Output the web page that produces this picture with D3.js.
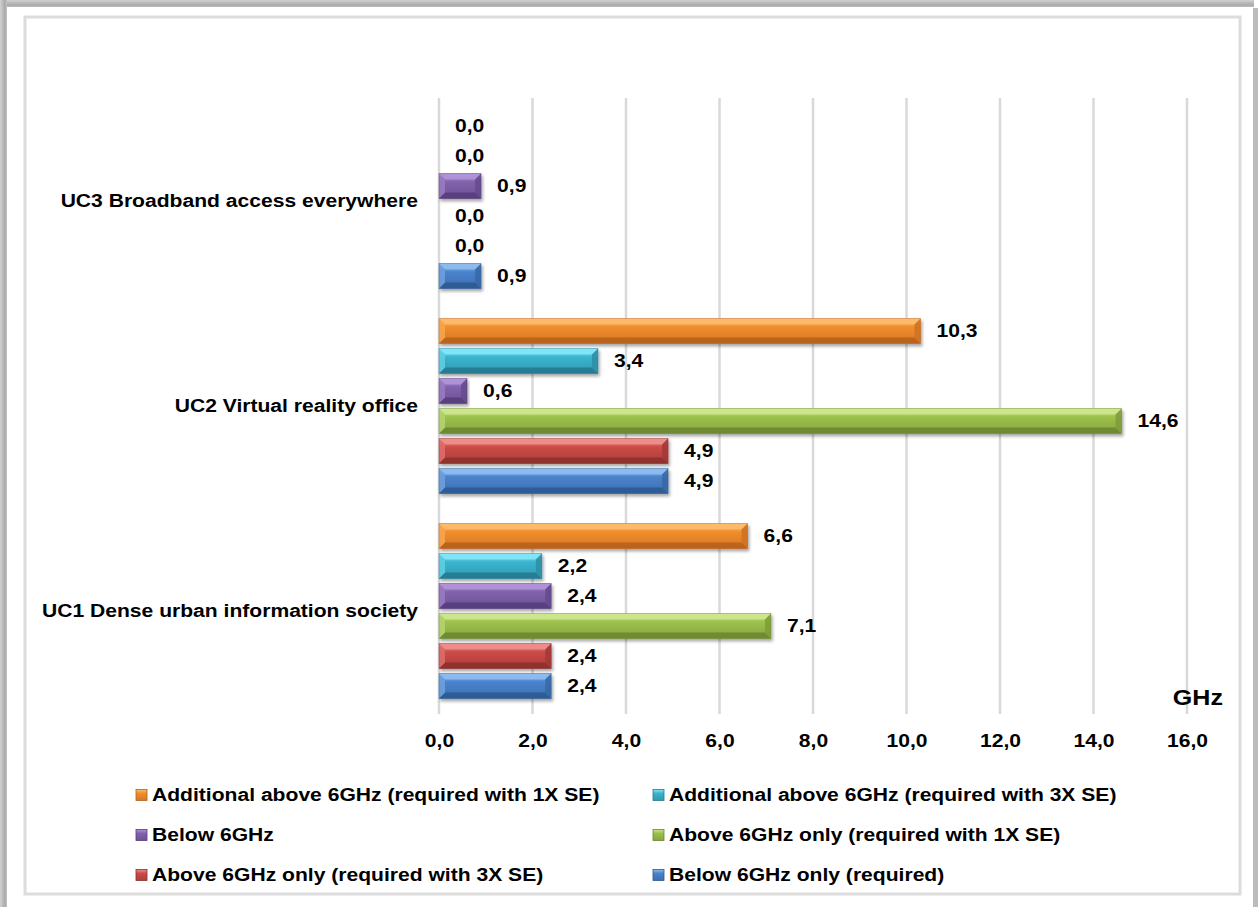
<!DOCTYPE html>
<html>
<head>
<meta charset="utf-8">
<script src="https://cdn.jsdelivr.net/npm/d3@7"></script>
<style>
  html, body { margin: 0; padding: 0; background: #fff; }
  svg { display: block; }
  text { font-family: "Liberation Sans", Arial, sans-serif; font-weight: bold; fill: #000; }
</style>
</head>
<body>
<svg id="chart" width="1258" height="907"></svg>
<script>
// Use cases (top to bottom)
const categories = [
  "UC3 Broadband access everywhere",
  "UC2 Virtual reality office",
  "UC1 Dense urban information society"
];

// Series in drawing order within each group (top to bottom)
const seriesNames = [
  "Additional above 6GHz (required with 1X SE)",
  "Additional above 6GHz (required with 3X SE)",
  "Below 6GHz",
  "Above 6GHz only (required with 1X SE)",
  "Above 6GHz only (required with 3X SE)",
  "Below 6GHz only (required)"
];

// Spectrum in GHz per series, ordered as categories (UC3, UC2, UC1)
const additional1X = [0.0, 10.3, 6.6];
const additional3X = [0.0, 3.4, 2.2];
const below6 = [0.9, 0.6, 2.4];
const above6Only1X = [0.0, 14.6, 7.1];
const above6Only3X = [0.0, 4.9, 2.4];
const below6Only = [0.9, 4.9, 2.4];
const seriesValues = [additional1X, additional3X, below6, above6Only1X, above6Only3X, below6Only];

const xTicks = [0, 2, 4, 6, 8, 10, 12, 14, 16];
const axisUnit = "GHz";

// Bevel palette per series: face, highlight, shade
const palette = [
  { base: "#F08C2C", light: "#FDBB6C", dark: "#B5601B" },
  { base: "#3AB4CF", light: "#82E6F7", dark: "#27788D" },
  { base: "#8062AC", light: "#B092D8", dark: "#553C7A" },
  { base: "#9CC04B", light: "#CBE68C", dark: "#6A8530" },
  { base: "#CB4A47", light: "#EE8D8A", dark: "#8A2E2C" },
  { base: "#4A82CC", light: "#8DBCF0", dark: "#2D588F" }
];

const fmt = v => d3.format(".1f")(v).replace(".", ",");

// Wide bold lettering: text is stretched horizontally around its anchor
const SX = 1.14;
const FS = 18.5;
function label(parent, x, y, str, opts = {}) {
  const g = parent.append("g").attr("transform", `translate(${x},${y}) scale(${SX},1)`);
  return g.append("text")
    .attr("dy", "0.35em")
    .attr("text-anchor", opts.anchor || "start")
    .attr("font-size", opts.size || FS)
    .text(str);
}

const svg = d3.select("#chart");
const defs = svg.append("defs");

// Page frame: soft shadow edges and inner border
const gTop = defs.append("linearGradient").attr("id", "shTop").attr("x1", 0).attr("y1", 0).attr("x2", 0).attr("y2", 1);
gTop.append("stop").attr("offset", 0).attr("stop-color", "#d2d2d2");
gTop.append("stop").attr("offset", 0.7).attr("stop-color", "#a9a9a9");
gTop.append("stop").attr("offset", 1).attr("stop-color", "#bdbdbd");
const gLeft = defs.append("linearGradient").attr("id", "shLeft").attr("x1", 0).attr("y1", 0).attr("x2", 1).attr("y2", 0);
gLeft.append("stop").attr("offset", 0).attr("stop-color", "#d2d2d2");
gLeft.append("stop").attr("offset", 0.7).attr("stop-color", "#a9a9a9");
gLeft.append("stop").attr("offset", 1).attr("stop-color", "#c4c4c4");

svg.append("rect").attr("x", 0).attr("y", 0).attr("width", 1254).attr("height", 7).attr("fill", "url(#shTop)");
svg.append("rect").attr("x", 0).attr("y", 0).attr("width", 7).attr("height", 907).attr("fill", "url(#shLeft)");
svg.append("rect").attr("x", 1253).attr("y", 8).attr("width", 5).attr("height", 899).attr("fill", "#bcbcbc");
svg.append("rect").attr("x", 25).attr("y", 17).attr("width", 1215).attr("height", 877)
  .attr("fill", "#fff").attr("stroke", "#dcdcdc").attr("stroke-width", 3);

// Bar drop shadow
const shadow = defs.append("filter").attr("id", "barShadow")
  .attr("x", "-5%").attr("y", "-30%").attr("width", "115%").attr("height", "170%");
shadow.append("feDropShadow").attr("dx", 1.5).attr("dy", 2.5).attr("stdDeviation", 1.6)
  .attr("flood-color", "#000").attr("flood-opacity", 0.35);

// Face gradients
palette.forEach((p, i) => {
  const g = defs.append("linearGradient").attr("id", "face" + i)
    .attr("x1", 0).attr("y1", 0).attr("x2", 0).attr("y2", 1);
  g.append("stop").attr("offset", 0).attr("stop-color", p.light);
  g.append("stop").attr("offset", 0.35).attr("stop-color", p.base);
  g.append("stop").attr("offset", 1).attr("stop-color", d3.interpolateRgb(p.base, p.dark)(0.45));
});

// Scales
const x = d3.scaleLinear().domain([0, 16]).range([439, 1187]);
const yCat = d3.scaleBand().domain(categories).range([98.5, 713.5]).padding(0);
const ySer = d3.scaleBand().domain(seriesNames).range([0, yCat.bandwidth()])
  .paddingInner(1 / 6).paddingOuter(0.5);

// Vertical gridlines
svg.append("g").selectAll("line").data(xTicks).join("line")
  .attr("x1", d => x(d)).attr("x2", d => x(d))
  .attr("y1", 98).attr("y2", 714)
  .attr("stroke", "#d9d9d9").attr("stroke-width", 2.5);

// X axis tick labels
const xAxis = d3.axisBottom(x).tickValues(xTicks).tickFormat(fmt).tickSize(0).tickPadding(0);
const axG = svg.append("g").attr("transform", "translate(0,741)").call(xAxis);
axG.select(".domain").remove();
axG.selectAll("text")
  .attr("font-size", FS).attr("font-family", "Liberation Sans, Arial, sans-serif")
  .attr("font-weight", "bold").attr("fill", "#000")
  .attr("y", 0).attr("dy", "0.35em")
  .attr("transform", `scale(${SX},1)`);

label(svg, 1223, 697, axisUnit, { anchor: "end", size: 22 });

// Category labels
const catG = svg.append("g");
categories.forEach(c => label(catG, 418, yCat(c) + yCat.bandwidth() / 2, c, { anchor: "end" }));

// Bars
const bevel = (w, h, b) => {
  const bb = Math.min(b, w / 2);
  return {
    top: [[0, 0], [w, 0], [w - bb, bb], [bb, bb]],
    bottom: [[0, h], [w, h], [w - bb, h - bb], [bb, h - bb]],
    left: [[0, 0], [bb, bb], [bb, h - bb], [0, h]],
    right: [[w, 0], [w - bb, bb], [w - bb, h - bb], [w, h]]
  };
};
const pts = a => a.map(p => p.join(",")).join(" ");

const records = [];
categories.forEach((c, ci) => {
  seriesNames.forEach((s, si) => {
    records.push({ cat: c, ser: s, si, value: seriesValues[si][ci] });
  });
});

const barG = svg.append("g");
const valG = svg.append("g");
records.forEach(r => {
  const y0 = yCat(r.cat) + ySer(r.ser);
  const h = ySer.bandwidth();
  const w = x(r.value) - x(0);
  const p = palette[r.si];
  if (w > 0.5) {
    const g = barG.append("g").attr("transform", `translate(${x(0)},${y0})`);
    const inner = g.append("g").attr("filter", "url(#barShadow)");
    inner.append("rect").attr("width", w).attr("height", h).attr("fill", `url(#face${r.si})`);
    const bv = bevel(w, h, 6);
    inner.append("polygon").attr("points", pts(bv.top)).attr("fill", p.light).attr("opacity", 0.95);
    inner.append("polygon").attr("points", pts(bv.bottom)).attr("fill", p.dark).attr("opacity", 0.85);
    inner.append("polygon").attr("points", pts(bv.left)).attr("fill", d3.interpolateRgb(p.light, p.base)(0.5)).attr("opacity", 0.9);
    inner.append("polygon").attr("points", pts(bv.right)).attr("fill", d3.interpolateRgb(p.base, p.dark)(0.6)).attr("opacity", 0.9);
    inner.append("rect").attr("width", w).attr("height", h).attr("fill", "none")
      .attr("stroke", p.dark).attr("stroke-opacity", 0.5).attr("stroke-width", 0.8);
  }
  label(valG, x(r.value) + 16, y0 + h / 2, fmt(r.value));
});

// Legend (two columns, row-wise)
const legX = [136, 653];
const legY = [795, 835, 875];
const leg = svg.append("g");
seriesNames.forEach((s, i) => {
  const lx = legX[i % 2], ly = legY[Math.floor(i / 2)];
  const p = palette[i];
  leg.append("rect").attr("x", lx).attr("y", ly - 5.5).attr("width", 11).attr("height", 11)
    .attr("fill", `url(#face${i})`).attr("stroke", p.dark).attr("stroke-width", 0.8);
  label(leg, lx + 16, ly, s);
});
</script>
</body>
</html>
